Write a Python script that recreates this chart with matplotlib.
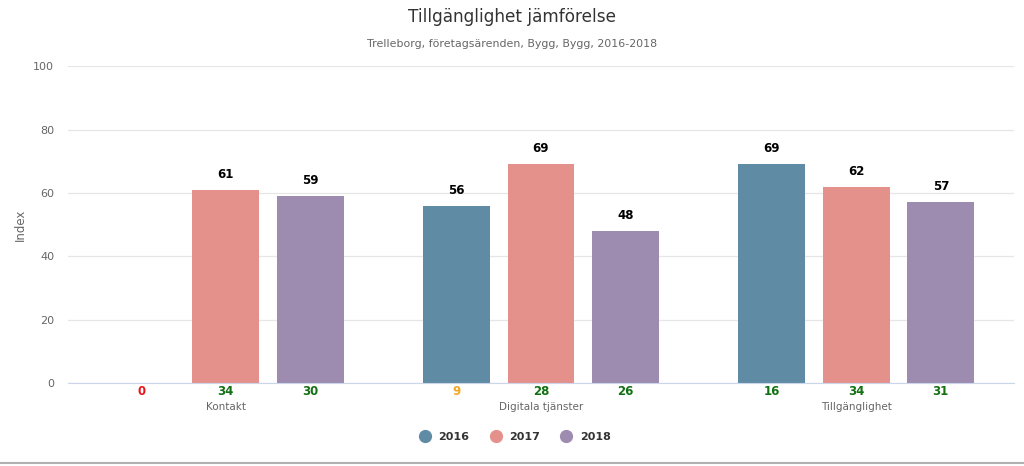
import matplotlib.pyplot as plt
import numpy as np
from matplotlib.lines import Line2D

categories = ["Kontakt", "Digitala tjänster", "Tillgänglighet"]
years = ["2016", "2017", "2018"]
values = {
    "2016": [0, 56, 69],
    "2017": [61, 69, 62],
    "2018": [59, 48, 57],
}
counts = {
    "2016": [0, 9, 16],
    "2017": [34, 28, 34],
    "2018": [30, 26, 31],
}
colors = {"2016": "#5f8ca4", "2017": "#e4918c", "2018": "#9d8bb0"}


def count_color(n):
    if n < 5:
        return "#e8141a"
    if n < 10:
        return "#f5a623"
    return "#137013"


fig = plt.figure(figsize=(10.24, 4.66), dpi=100)
ax = fig.add_axes([0.0664, 0.178, 0.9238, 0.680])

x = np.arange(len(categories))
offset = 0.268
width = 0.212

for i, yr in enumerate(years):
    xs = x + (i - 1) * offset
    vals = values[yr]
    for xi, v, n in zip(xs, vals, counts[yr]):
        if v > 0:
            ax.bar(xi, v, width=width, color=colors[yr], zorder=3)
            ax.annotate(str(v), (xi, v), xytext=(0, 6.5), textcoords="offset points",
                        ha="center", va="bottom", fontsize=8.5, fontweight="bold", color="black")
        ax.annotate(str(n), (xi, 0), xytext=(0, -1.5), textcoords="offset points",
                    ha="center", va="top", fontsize=8.5, fontweight="bold", color=count_color(n))

ax.set_xlim(-0.5, 2.5)
ax.set_ylim(0, 100)
ax.set_yticks(range(0, 101, 20))
ax.set_xticks(x)
ax.set_xticklabels(categories)
ax.tick_params(axis="x", length=0, pad=14, labelsize=7.5, labelcolor="#666666")
ax.tick_params(axis="y", length=0, pad=10, labelsize=8, labelcolor="#666666")
ax.grid(axis="y", color="#e6e6e6", linewidth=0.9, zorder=0)
for s in ["top", "right", "left"]:
    ax.spines[s].set_visible(False)
ax.spines["bottom"].set_color("#ccd6eb")
ax.spines["bottom"].set_zorder(4)
ax.set_ylabel("Index", fontsize=8.5, color="#666666")
ax.yaxis.set_label_coords(-0.043, 0.5)

fig.text(0.5, 0.963, "Tillgänglighet jämförelse", ha="center", va="center",
         fontsize=12.2, color="#333333")
fig.text(0.5, 0.905, "Trelleborg, företagsärenden, Bygg, Bygg, 2016-2018", ha="center",
         va="center", fontsize=7.9, color="#666666")

handles = [Line2D([], [], marker="o", linestyle="", markersize=8.5, color=colors[yr]) for yr in years]
leg = fig.legend(handles, years, loc="center", bbox_to_anchor=(0.5, 0.062), ncol=3,
                 frameon=False, handletextpad=0.2, columnspacing=1.4,
                 prop={"weight": "bold", "size": 8})
for t in leg.get_texts():
    t.set_color("#333333")

fig.add_artist(Line2D([0, 1], [0.006, 0.006], transform=fig.transFigure,
                      color="#b0b0b0", linewidth=1.5))

fig.savefig("out.png", dpi=100)
